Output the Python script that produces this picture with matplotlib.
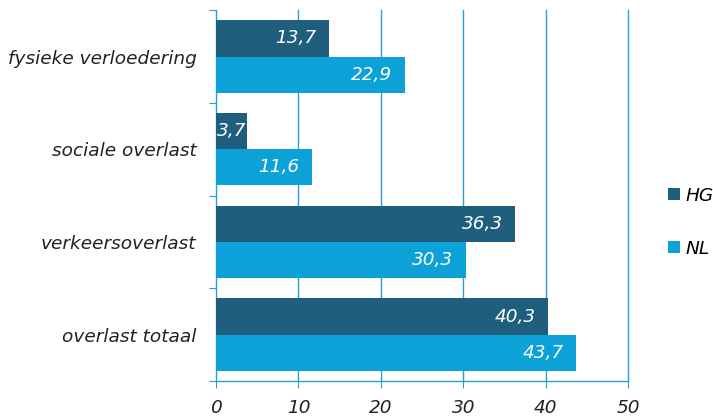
import numpy as np
import matplotlib.pyplot as plt

# Data
categorieen = ['fysieke verloedering', 'sociale overlast', 'verkeersoverlast', 'overlast totaal']
hg = [13.7, 3.7, 36.3, 40.3]
nl = [22.9, 11.6, 30.3, 43.7]
x_ticks = [0, 10, 20, 30, 40, 50]

kleur_hg = '#1f5f7d'
kleur_nl = '#0ca1d7'
kleur_as = '#2a9fd6'
fs = 13.3

plt.rcParams['font.family'] = 'DejaVu Sans'

fig = plt.figure(figsize=(7.13, 4.19), dpi=100)
ax = fig.add_axes([0.303, 0.0907, 0.578, 0.885])

y = np.arange(len(categorieen))
h = 0.39
b_hg = ax.barh(y - h / 2, hg, height=h, color=kleur_hg, label='HG', zorder=3)
b_nl = ax.barh(y + h / 2, nl, height=h, color=kleur_nl, label='NL', zorder=3)

# waarden in de balken
for bars, waarden in ((b_hg, hg), (b_nl, nl)):
    for bar, w in zip(bars, waarden):
        yc = bar.get_y() + bar.get_height() / 2
        tekst = f'{w:.1f}'.replace('.', ',')
        if w < 6:
            ax.annotate(tekst, (0, yc), xytext=(0.5, 0), textcoords='offset points',
                        ha='left', va='center', color='white', fontsize=fs,
                        style='italic', zorder=4)
        else:
            ax.annotate(tekst, (w, yc), xytext=(-9, 0), textcoords='offset points',
                        ha='right', va='center', color='white', fontsize=fs,
                        style='italic', zorder=4)

ax.set_xlim(0, 50)
ax.set_ylim(len(categorieen) - 0.5, -0.5)
ax.set_xticks(x_ticks)
ax.set_xticklabels([str(t) for t in x_ticks], style='italic', fontsize=fs, color='#222222')

ax.set_yticks(np.arange(len(categorieen) + 1) - 0.5, minor=False)
ax.set_yticklabels([])
ax.set_yticks(y, minor=True)
ax.set_yticklabels(categorieen, minor=True, style='italic', fontsize=fs, color='#222222')
ax.tick_params(axis='y', which='minor', length=0, pad=14)
ax.tick_params(axis='y', which='major', length=5, color=kleur_as, direction='out')
ax.tick_params(axis='x', length=5, color=kleur_as, direction='out', pad=8)

# verticale rasterlijnen
for t in x_ticks[1:]:
    ax.axvline(t, color=kleur_as, linewidth=1, zorder=0, clip_on=False)
for s in ('top', 'right'):
    ax.spines[s].set_visible(False)
for s in ('left', 'bottom'):
    ax.spines[s].set_color(kleur_as)
    ax.spines[s].set_linewidth(1)

leg = fig.legend(loc='center left', bbox_to_anchor=(0.913, 0.47), frameon=False,
                 prop={'style': 'italic', 'size': fs}, handlelength=0.65,
                 handleheight=0.65, handletextpad=0.3, labelspacing=1.9)

fig.savefig('out.png', dpi=100)
